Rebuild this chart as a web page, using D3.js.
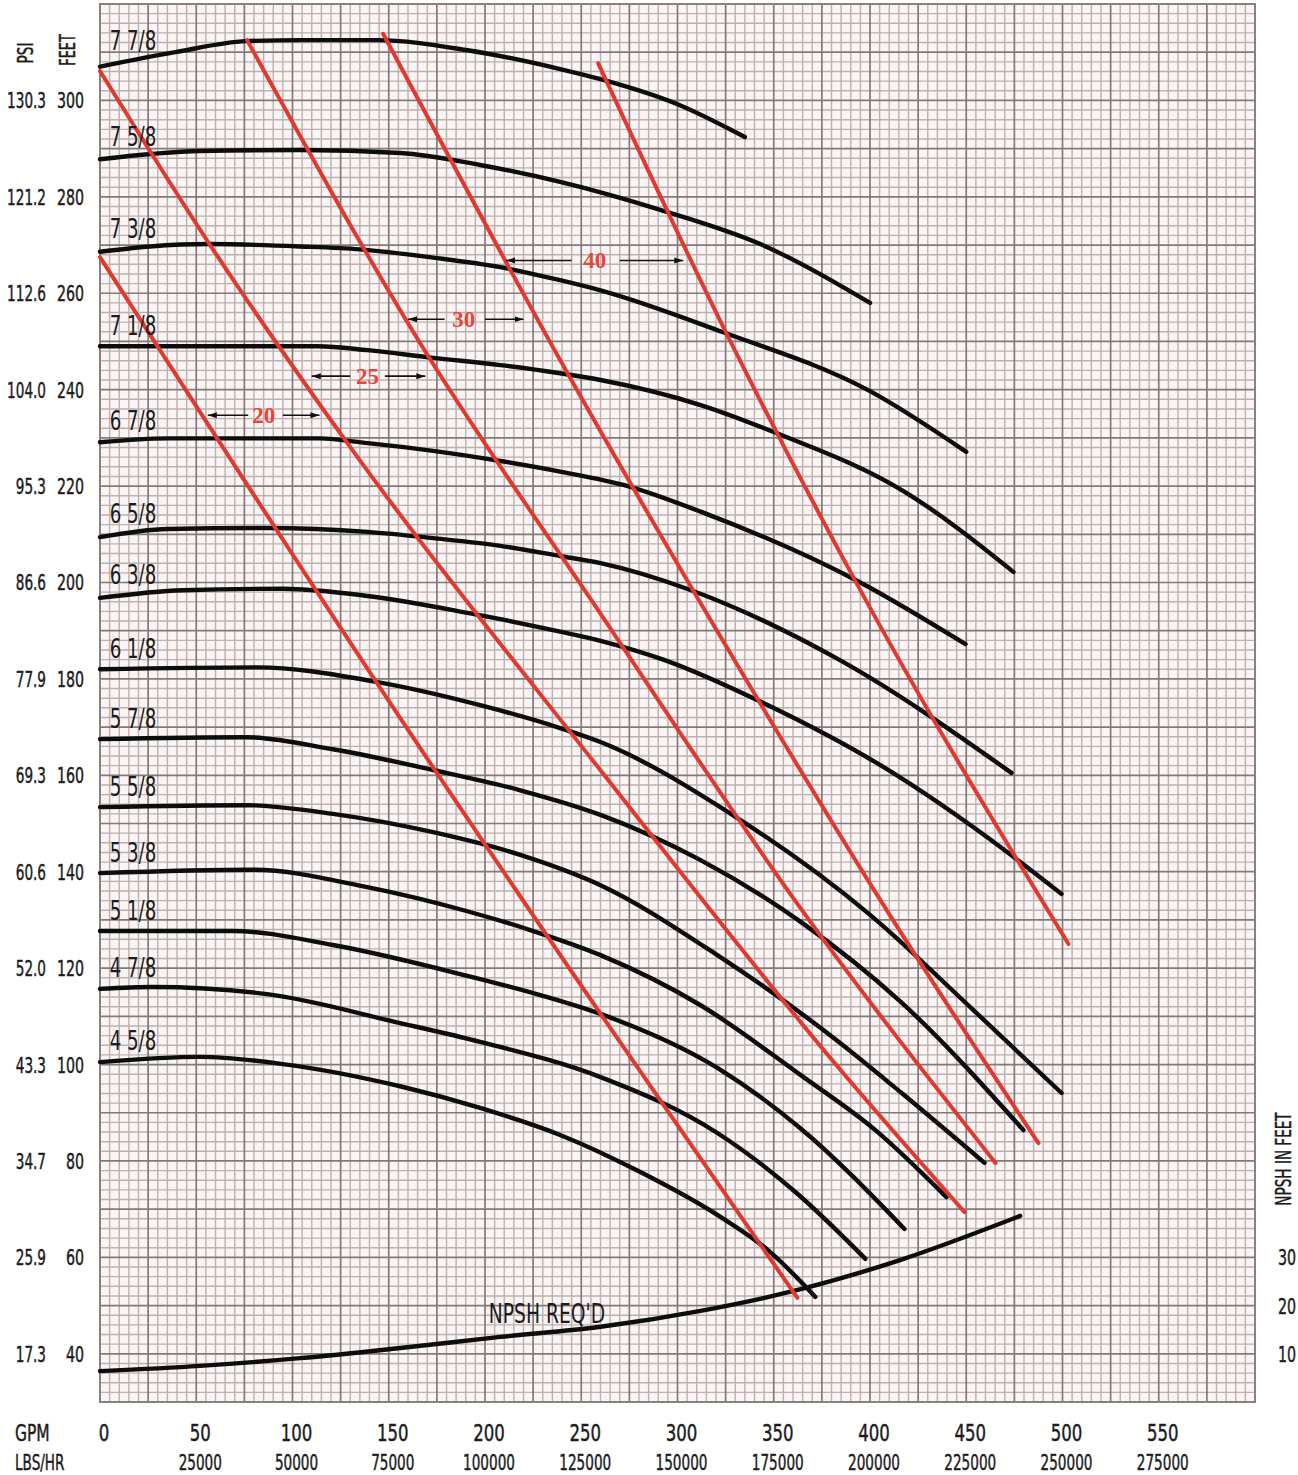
<!DOCTYPE html>
<html>
<head>
	<meta charset="utf-8">
	<title>Pump performance curve</title>
	<script src="https://d3js.org/d3.v7.min.js" charset="utf-8"></script>
	<style type="text/css">
		body {
			margin: 0;
			background: #ffffff;
		}
		svg text {
			font-family: 'Liberation Sans Narrow', 'DejaVu Sans Condensed', 'Arial Narrow', sans-serif;
			fill: #1c1c1c;
		}
		svg .axis text {
			stroke: #1c1c1c;
			stroke-width: 0.45px;
		}
		svg text.zone {
			font-family: 'Liberation Serif', 'DejaVu Serif', serif;
			font-weight: bold;
			fill: #e2463d;
		}
	</style>
</head>
<body>
	<script type="text/javascript">
		var W = 1298;
		var H = 1475;

		// axis labels
		var gpmTicks = [0, 50, 100, 150, 200, 250, 300, 350, 400, 450, 500, 550];
		var lbsTicks = [25000, 50000, 75000, 100000, 125000, 150000, 175000, 200000, 225000, 250000, 275000];
		var lbsGpm = [50, 100, 150, 200, 250, 300, 350, 400, 450, 500, 550];
		var feetTicks = [300, 280, 260, 240, 220, 200, 180, 160, 140, 120, 100, 80, 60, 40];
		var psiLabels = ['130.3', '121.2', '112.6', '104.0', '95.3', '86.6', '77.9', '69.3', '60.6', '52.0', '43.3', '34.7', '25.9', '17.3'];
		var npshTicks = [10, 20, 30];

		// impeller diameters and head curves [GPM, feet]
		var sizes = ['7 7/8', '7 5/8', '7 3/8', '7 1/8', '6 7/8', '6 5/8', '6 3/8', '6 1/8', '5 7/8', '5 5/8', '5 3/8', '5 1/8', '4 7/8', '4 5/8'];
		var head778 = [[0, 307], [39, 310], [76, 312.3], [104, 312.5], [144, 312.5], [191, 310.4], [239, 306.5], [260, 304.4], [300, 299.2], [335, 292.4]];
		var head758 = [[0, 287.8], [52, 289.5], [104, 289.7], [156, 289.1], [197.5, 286.6], [239, 283.1], [291, 277.3], [343, 270.2], [400, 258]];
		var head738 = [[0, 268.6], [26, 269.7], [57, 270.2], [104, 269.7], [135, 269.1], [173, 267.4], [208, 265.4], [239, 262.7], [260, 260.6], [323, 252], [400, 239.7], [450, 227.1]];
		var head718 = [[0, 249], [113, 249], [139, 248.2], [173, 246.6], [208, 245.1], [239, 243.4], [260, 242], [312, 236.8], [350, 231.2], [418, 218.8], [474.5, 202.2]];
		var head678 = [[0, 229.1], [35, 229.9], [114, 229.9], [139, 228.9], [173, 227.3], [208, 225.2], [239, 223], [275, 219.9], [312, 214.7], [393.5, 200.3], [449.6, 187.2]];
		var head658 = [[0, 209.4], [35, 211.1], [87, 211.3], [139, 210.5], [173, 209.2], [208, 207.6], [239, 205.5], [260, 204], [305.6, 198.6], [382.5, 184.3], [473.5, 160.5]];
		var head638 = [[0, 196.8], [43, 198.4], [95, 198.7], [139, 197.2], [191, 193.7], [239, 189.8], [260, 187.9], [292.6, 184], [344.6, 175], [405.4, 162.1], [471.9, 143.9], [499.5, 135.4]];
		var head618 = [[0, 182], [82, 182.4], [142, 179.5], [199, 174.4], [239, 169.8], [260, 166.9], [328.5, 151.8], [400.2, 131], [453.7, 111.3], [499.5, 94.1]];
		var head578 = [[0, 167.5], [76, 167.9], [121, 165.4], [173, 161.1], [218.3, 156.9], [260, 151.8], [312, 142.4], [364, 129.6], [416, 113], [479.7, 86.4]];
		var head558 = [[0, 153.4], [76, 153.8], [121, 152], [173, 148.2], [218.3, 143.5], [260, 137.2], [320.7, 122.7], [382.5, 105.1], [415.8, 94.3], [459.5, 79.6]];
		var head538 = [[0, 139.7], [79.5, 140.4], [138.8, 136.8], [190.8, 131.8], [223.5, 127.9], [260, 122.7], [312, 112.3], [364, 97.8], [402.8, 86.4], [439.7, 72.5]];
		var head518 = [[0, 127.7], [69, 127.7], [121, 124.8], [190.8, 118.4], [228.7, 114.4], [260, 110.5], [320.7, 99.3], [363.8, 86.8], [417.9, 65.9]];
		var head478 = [[0, 115.7], [27.5, 116.1], [86.8, 114.6], [155.9, 108.6], [197.5, 104.7], [260, 97.4], [320.7, 85.8], [361.7, 73.4], [397.6, 59.7]];
		var head458 = [[0, 100.5], [52, 101.6], [95, 100.1], [155.9, 95.5], [197.5, 91], [239, 85.4], [280.7, 77.7], [320.7, 68.8], [348.2, 61.1], [371.6, 51.8]];
		var headCurves = [head778, head758, head738, head718, head678, head658, head638, head618, head578, head558, head538, head518, head478, head458];

		// NPSH required [GPM, NPSH feet]
		var npshReq = [[0, 6.4], [52, 7.5], [104, 9.1], [156, 11.2], [208, 13.5], [260, 15.6], [312, 18.9], [364, 23.4], [416, 29.5], [478, 38.6]];

		// red horsepower lines [GPM, feet]
		var hpLine1 = [[0, 267.5], [155.9, 171.9], [362.3, 51.6]];
		var hpLine2 = [[0, 306.1], [57.2, 270], [128.9, 228.7], [259.9, 161.1], [382.5, 99.9], [449.1, 69.4]];
		var hpLine3 = [[76.4, 312.5], [165.3, 250.3], [259.9, 193.6], [363.8, 132.5], [465.2, 79.6]];
		var hpLine4 = [[147.1, 313.8], [239.1, 246.1], [323.3, 188.1], [405.4, 134.1], [487.5, 83.7]];
		var hpLine5 = [[258.8, 307.7], [323.3, 253.4], [393.5, 199.5], [503.1, 125]];
		var hpLines = [hpLine1, hpLine2, hpLine3, hpLine4, hpLine5];

		// horsepower zone labels
		var zoneLabels = ['20', '25', '30', '40'];
		var zoneFeet = [234.7, 242.8, 254.6, 266.8];
		var zoneGpm = [85, 139, 189, 257];
		var zoneArrowL = [[77, 56], [130, 110], [179, 160], [245, 211]];
		var zoneArrowR = [[95, 114], [148, 169], [200, 220], [270, 303]];

		var x = d3.scaleLinear().domain([0, 600]).range([100, 1255]);
		var y = d3.scaleLinear().domain([30, 320]).range([1402, 4]);
		var yN = d3.scaleLinear().domain([0, 290]).range([1402, 4]);

		// condense a text horizontally around its anchor point
		function squeeze(sel, sx) {
			sel.attr('transform', function () {
				var t = d3.select(this);
				return 'translate(' + t.attr('x') + ',' + t.attr('y') + ') scale(' + sx + ',1)';
			})
			.attr('x', 0)
			.attr('y', 0);
		}

		var svg = d3.select('body')
			.append('svg')
			.attr('width', W)
			.attr('height', H);

		svg.append('rect')
			.attr('width', W)
			.attr('height', H)
			.attr('fill', '#ffffff');

		svg.append('defs')
			.append('marker')
			.attr('id', 'head')
			.attr('markerUnits', 'userSpaceOnUse')
			.attr('markerWidth', 10)
			.attr('markerHeight', 8)
			.attr('refX', 9)
			.attr('refY', 4)
			.attr('orient', 'auto')
			.append('path')
			.attr('d', 'M0,1 L9,4 L0,7 Z')
			.attr('fill', '#111');

		// graph paper
		var grid = svg.append('g');
		grid.append('rect')
			.attr('x', x(0))
			.attr('y', y(320))
			.attr('width', x(600) - x(0))
			.attr('height', y(30) - y(320))
			.attr('fill', '#fbf4f4');

		grid.selectAll('.vminor')
			.data(d3.range(0, 601, 5).filter(function (d) { return d % 25 != 0; }))
			.enter()
			.append('line')
			.attr('x1', function (d) { return x(d); })
			.attr('x2', function (d) { return x(d); })
			.attr('y1', y(320))
			.attr('y2', y(30))
			.attr('stroke', '#bcb0b0')
			.attr('stroke-width', 1.4);

		grid.selectAll('.hminor')
			.data(d3.range(30, 321, 2).filter(function (d) { return d % 10 != 0; }))
			.enter()
			.append('line')
			.attr('x1', x(0))
			.attr('x2', x(600))
			.attr('y1', function (d) { return y(d); })
			.attr('y2', function (d) { return y(d); })
			.attr('stroke', '#bcb0b0')
			.attr('stroke-width', 1.4);

		grid.selectAll('.vmajor')
			.data(d3.range(0, 601, 25))
			.enter()
			.append('line')
			.attr('x1', function (d) { return x(d); })
			.attr('x2', function (d) { return x(d); })
			.attr('y1', y(320))
			.attr('y2', y(30))
			.attr('stroke', '#847979')
			.attr('stroke-width', 1.7);

		grid.selectAll('.hmajor')
			.data(d3.range(30, 321, 10))
			.enter()
			.append('line')
			.attr('x1', x(0))
			.attr('x2', x(600))
			.attr('y1', function (d) { return y(d); })
			.attr('y2', function (d) { return y(d); })
			.attr('stroke', '#847979')
			.attr('stroke-width', 1.7);

		grid.append('rect')
			.attr('x', x(0))
			.attr('y', y(320))
			.attr('width', x(600) - x(0))
			.attr('height', y(30) - y(320))
			.attr('fill', 'none')
			.attr('stroke', '#8a8080')
			.attr('stroke-width', 2);

		var line = d3.line()
			.x(function (d) { return x(d[0]); })
			.y(function (d) { return y(d[1]); })
			.curve(d3.curveMonotoneX);

		var npshLine = d3.line()
			.x(function (d) { return x(d[0]); })
			.y(function (d) { return yN(d[1]); })
			.curve(d3.curveMonotoneX);

		// head curves
		svg.append('g')
			.selectAll('path')
			.data(headCurves)
			.enter()
			.append('path')
			.attr('d', line)
			.attr('fill', 'none')
			.attr('stroke', '#0d0d0d')
			.attr('stroke-width', 4.4)
			.attr('stroke-linecap', 'round');

		svg.append('path')
			.attr('d', npshLine(npshReq))
			.attr('fill', 'none')
			.attr('stroke', '#0d0d0d')
			.attr('stroke-width', 4.4)
			.attr('stroke-linecap', 'round');

		// red lines
		svg.append('g')
			.selectAll('path')
			.data(hpLines)
			.enter()
			.append('path')
			.attr('d', line)
			.attr('fill', 'none')
			.attr('stroke', '#e0392f')
			.attr('stroke-width', 4)
			.attr('stroke-linecap', 'round');

		function valueAt(pts, g) {
			var i = d3.bisector(function (d) { return d[0]; }).right(pts, g);
			if (i <= 0) return pts[0][1];
			if (i >= pts.length) return pts[pts.length - 1][1];
			var a = pts[i - 1], b = pts[i];
			return a[1] + (b[1] - a[1]) * (g - a[0]) / (b[0] - a[0]);
		}

		// impeller labels
		svg.append('g')
			.selectAll('text')
			.data(sizes)
			.enter()
			.append('text')
			.text(function (d) { return d; })
			.attr('x', x(5))
			.attr('y', function (d, i) { return y(valueAt(headCurves[i], 15)) - 11; })
			.style('font-size', '26px')
			.call(squeeze, 0.78);

		svg.append('text')
			.text("NPSH REQ'D")
			.attr('x', x(202))
			.attr('y', yN(15.4) - 5)
			.style('font-size', '26px')
			.call(squeeze, 0.8);

		// horsepower zones
		var zones = svg.append('g');
		zones.selectAll('text')
			.data(zoneLabels)
			.enter()
			.append('text')
			.attr('class', 'zone')
			.text(function (d) { return d; })
			.attr('x', function (d, i) { return x(zoneGpm[i]); })
			.attr('y', function (d, i) { return y(zoneFeet[i]) + 8; })
			.attr('text-anchor', 'middle')
			.style('font-size', '23px');

		zones.selectAll('.al')
			.data(zoneArrowL)
			.enter()
			.append('line')
			.attr('x1', function (d) { return x(d[0]); })
			.attr('x2', function (d) { return x(d[1]); })
			.attr('y1', function (d, i) { return y(zoneFeet[i]); })
			.attr('y2', function (d, i) { return y(zoneFeet[i]); })
			.attr('stroke', '#111')
			.attr('stroke-width', 1.6)
			.attr('marker-end', 'url(#head)');

		zones.selectAll('.ar')
			.data(zoneArrowR)
			.enter()
			.append('line')
			.attr('x1', function (d) { return x(d[0]); })
			.attr('x2', function (d) { return x(d[1]); })
			.attr('y1', function (d, i) { return y(zoneFeet[i]); })
			.attr('y2', function (d, i) { return y(zoneFeet[i]); })
			.attr('stroke', '#111')
			.attr('stroke-width', 1.6)
			.attr('marker-end', 'url(#head)');

		// left axis
		var left = svg.append('g').attr('class', 'axis').style('font-size', '21px');
		left.selectAll('.psi')
			.data(psiLabels)
			.enter()
			.append('text')
			.text(function (d) { return d; })
			.attr('x', 46)
			.attr('y', function (d, i) { return y(feetTicks[i]) + 8; })
			.attr('text-anchor', 'end')
			.call(squeeze, 0.72);

		left.selectAll('.feet')
			.data(feetTicks)
			.enter()
			.append('text')
			.text(function (d) { return d; })
			.attr('x', 84)
			.attr('y', function (d) { return y(d) + 8; })
			.attr('text-anchor', 'end')
			.call(squeeze, 0.75);

		left.append('text')
			.text('PSI')
			.attr('transform', 'translate(33,53) rotate(-90) scale(0.72,1)')
			.attr('text-anchor', 'middle');

		left.append('text')
			.text('FEET')
			.attr('transform', 'translate(75,50) rotate(-90) scale(0.68,1)')
			.attr('text-anchor', 'middle');

		// right NPSH axis
		var right = svg.append('g').attr('class', 'axis').style('font-size', '22px');
		right.selectAll('text.n')
			.data(npshTicks)
			.enter()
			.append('text')
			.attr('class', 'n')
			.text(function (d) { return d; })
			.attr('x', 1287)
			.attr('y', function (d) { return yN(d) + 8; })
			.attr('text-anchor', 'middle')
			.call(squeeze, 0.72);

		right.append('text')
			.text('NPSH IN FEET')
			.attr('transform', 'translate(1291,1159) rotate(-90) scale(0.72,1)')
			.attr('text-anchor', 'middle')
			.style('font-size', '21px');

		// bottom axis
		var bottom = svg.append('g').attr('class', 'axis');
		bottom.append('text')
			.text('GPM')
			.attr('x', 15)
			.attr('y', 1441)
			.style('font-size', '23px')
			.call(squeeze, 0.75);

		bottom.append('text')
			.text('LBS/HR')
			.attr('x', 15)
			.attr('y', 1470)
			.style('font-size', '21px')
			.call(squeeze, 0.72);

		bottom.selectAll('.gpm')
			.data(gpmTicks)
			.enter()
			.append('text')
			.text(function (d) { return d; })
			.attr('x', function (d) { return x(d) + 4; })
			.attr('y', 1441)
			.attr('text-anchor', 'middle')
			.style('font-size', '23px')
			.call(squeeze, 0.8);

		bottom.selectAll('.lbs')
			.data(lbsTicks)
			.enter()
			.append('text')
			.text(function (d) { return d; })
			.attr('x', function (d, i) { return x(lbsGpm[i]) + 4; })
			.attr('y', 1470)
			.attr('text-anchor', 'middle')
			.style('font-size', '21px')
			.call(squeeze, 0.72);
	</script>
</body>
</html>
